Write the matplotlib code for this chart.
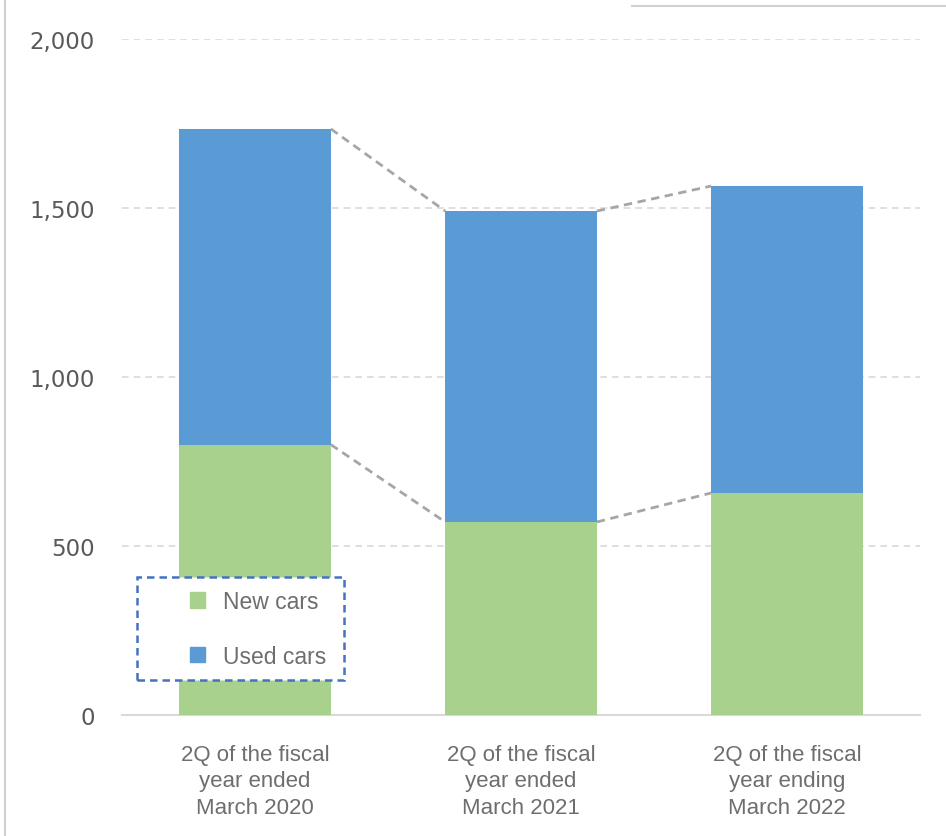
import matplotlib.pyplot as plt
from matplotlib.lines import Line2D
from matplotlib.patches import Patch, Rectangle
from matplotlib.ticker import FuncFormatter

# data
categories = ["2Q of the fiscal\nyear ended\nMarch 2020",
              "2Q of the fiscal\nyear ended\nMarch 2021",
              "2Q of the fiscal\nyear ending\nMarch 2022"]
new_cars = [800, 571, 657]
used_cars = [934, 920, 908]

green = "#A9D18E"
blue = "#5B9BD5"
gray_txt = "#595959"
gray_lbl = "#6E6E6E"

W, H = 946, 837
fig = plt.figure(figsize=(W / 100, H / 100), dpi=100)
ax = fig.add_axes([122 / W, 1 - 716 / H, 798 / W, 676 / H])

x = list(range(len(categories)))
w = 0.57
ax.bar(x, new_cars, width=w, color=green, zorder=3)
ax.bar(x, used_cars, width=w, bottom=new_cars, color=blue, zorder=3)

# dashed connectors between bars
totals = [a + b for a, b in zip(new_cars, used_cars)]
for i in range(len(x) - 1):
    for lvl in (new_cars, totals):
        ax.plot([x[i] + w / 2, x[i + 1] - w / 2], [lvl[i], lvl[i + 1]],
                color="#A6A6A6", lw=2, ls=(0, (3, 2)), zorder=2)

ax.set_xlim(-0.5, 2.5)
ax.set_ylim(0, 2000)
ax.set_yticks([0, 500, 1000, 1500, 2000])
ax.yaxis.set_major_formatter(FuncFormatter(lambda v, p: f"{int(v):,}"))
ax.set_xticks(x)
ax.set_xticklabels(categories, fontsize=16, color=gray_lbl, family="Liberation Sans",
                   linespacing=1.33)
for t in ax.get_yticklabels():
    t.set_fontsize(16.5)
    t.set_color(gray_txt)
    t.set_family("DejaVu Sans")
ax.tick_params(axis="both", length=0)
ax.tick_params(axis="y", pad=19.5)
ax.tick_params(axis="x", pad=21)

ax.grid(axis="y", color="#D9D9D9", ls=(0, (4, 3)), lw=1.2, zorder=0)
for s in ["top", "right", "left"]:
    ax.spines[s].set_visible(False)
ax.spines["bottom"].set_color("#D9D9D9")
ax.spines["bottom"].set_linewidth(1.5)

# legend box (dashed blue) drawn separately, legend entries on top
x0, x1, y0, y1 = 137, 344, 578, 681
box = Rectangle(((x0 - 122) / 798, (716 - y1) / 676), (x1 - x0) / 798, (y1 - y0) / 676,
                transform=ax.transAxes, facecolor="white", edgecolor="#4472C4",
                lw=1.8, ls=(0, (3, 2)), zorder=4)
ax.add_patch(box)
handles = [Patch(color=green, label="New cars"), Patch(color=blue, label="Used cars")]
leg = ax.legend(handles=handles, loc="center left",
                bbox_to_anchor=((190 - 122) / 798, (716 - 630) / 676),
                frameon=False, handlelength=0.65, handleheight=0.65,
                labelspacing=1.38, borderpad=0, handletextpad=0.8, borderaxespad=0,
                prop={"family": "Liberation Sans", "size": 16.5})
for t in leg.get_texts():
    t.set_color(gray_lbl)
leg.set_zorder(5)

# slide frame edges
fig.add_artist(Line2D([5 / W, 5 / W], [0, 1], color="#D0D0D0", lw=1.5))
fig.add_artist(Line2D([632 / W, 1], [1 - 7 / H, 1 - 7 / H], color="#D0D0D0", lw=1.5))

fig.savefig("out.png", dpi=100)
